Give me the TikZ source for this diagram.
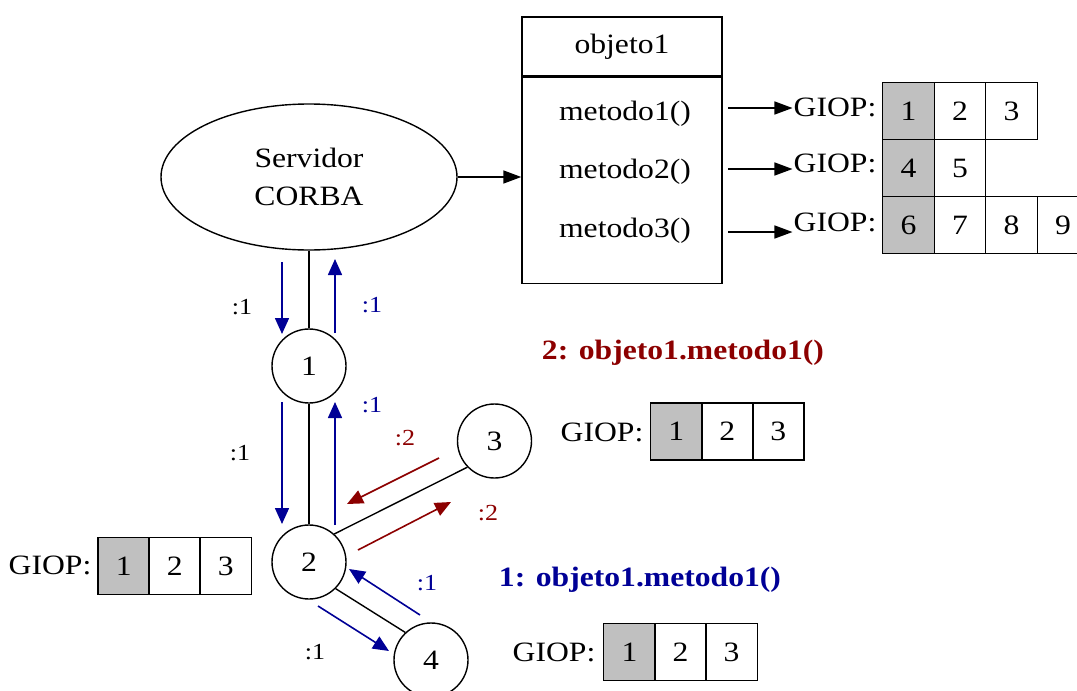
\documentclass[tikz,border=0pt]{standalone}
\usepackage{fontspec}
\setmainfont{Liberation Serif}[FakeStretch=1.13]
\usetikzlibrary{arrows.meta,shapes.geometric}
\definecolor{cblue}{RGB}{0,0,150}
\definecolor{cred}{RGB}{140,0,0}
\definecolor{cgrey}{RGB}{192,192,192}
\begin{document}
\begin{tikzpicture}[x=1pt,y=-1pt,
  txt/.style={font=\fontsize{28}{34}\selectfont, inner sep=1pt},
  lbl/.style={font=\fontsize{23}{27}\selectfont, inner sep=0pt},
  ttl/.style={font=\fontsize{28}{34}\selectfont\bfseries, inner sep=0pt},
  cell/.style={draw, line width=1.4pt, minimum width=51.5pt, minimum height=57pt, inner sep=0pt, font=\fontsize{28}{34}\selectfont},
  gcell/.style={cell, fill=cgrey},
  ring/.style={draw, circle, line width=1.4pt, minimum size=74pt, inner sep=0pt, font=\fontsize{28}{34}\selectfont},
  link/.style={line width=1.4pt},
  flow/.style={line width=1.6pt, -{Triangle[length=16pt,width=14pt]}},
  ptr/.style={line width=1.5pt, -{Triangle[length=18pt,width=13pt]}},
]
\useasboundingbox (0,0) rectangle (1077,691);

% server
\node[draw, ellipse, line width=1.4pt, minimum width=296pt, minimum height=146pt, align=center,
      font=\fontsize{28}{38}\selectfont] (srv) at (309,177) {Servidor\\CORBA};

% object box
\node[draw, line width=1.4pt, minimum width=200pt, minimum height=59pt, txt] (objhead) at (622,46.5) {objeto1};
\node[draw, line width=1.4pt, minimum width=200pt, minimum height=206pt, anchor=north] (objbody) at (objhead.south) {};
\node[txt] (m1) at (625,114) {metodo1()};
\node[txt] (m2) at (625,172) {metodo2()};
\node[txt] (m3) at (625,231) {metodo3()};
\draw[ptr] (srv.east) -- (srv.east -| objbody.west);

% GIOP labels top
\node[txt] (g1) at (835,107) {GIOP:};
\node[txt] (g2) at (835,163) {GIOP:};
\node[txt] (g3) at (835,222) {GIOP:};
\coordinate (a1) at (728,108);
\coordinate (a2) at (728,169);
\coordinate (a3) at (728,232);
\draw[ptr] (a1) -- (a1 -| g1.west);
\draw[ptr] (a2) -- (a2 -| g2.west);
\draw[ptr] (a3) -- (a3 -| g3.west);

% top table
\node[gcell] (t11) at (908.5,111) {1};
\node[cell] (t12) at (960,111) {2};
\node[cell] (t13) at (1011.5,111) {3};
\node[gcell] (t21) at (908.5,168) {4};
\node[cell] (t22) at (960,168) {5};
\node[gcell] (t31) at (908.5,225) {6};
\node[cell] (t32) at (960,225) {7};
\node[cell] (t33) at (1011.5,225) {8};
\node[cell] (t34) at (1063,225) {9};

% circles
\node[ring] (c1) at (309,366) {1};
\node[ring] (c2) at (309,562) {2};
\node[ring] (c3) at (494.5,441) {3};
\node[ring] (c4) at (431,660) {4};

\draw[link] (srv.south) -- (c1.north);
\draw[link] (c1.south) -- (c2.north);
\draw[link] (c2.48) -- (c3.224);
\draw[link] (c2.315) -- (c4.133);

% flow arrows
\coordinate (f1s) at (282,262); \coordinate (f1e) at (282,334);
\coordinate (f2s) at (335,333); \coordinate (f2e) at (335,259);
\coordinate (f3s) at (282,402); \coordinate (f3e) at (282,524);
\coordinate (f4s) at (335,525); \coordinate (f4e) at (335,402);
\coordinate (r1s) at (439,458); \coordinate (r1e) at (347,504);
\coordinate (r2s) at (358,550); \coordinate (r2e) at (451,502);
\coordinate (b1s) at (420,615); \coordinate (b1e) at (349,569);
\coordinate (b2s) at (318,606); \coordinate (b2e) at (389,651);
\draw[flow, cblue] (f1s) -- (f1e);
\draw[flow, cblue] (f2s) -- (f2e);
\draw[flow, cblue] (f3s) -- (f3e);
\draw[flow, cblue] (f4s) -- (f4e);
\draw[flow, cred] (r1s) -- (r1e);
\draw[flow, cred] (r2s) -- (r2e);
\draw[flow, cblue] (b1s) -- (b1e);
\draw[flow, cblue] (b2s) -- (b2e);

% labels
\node[lbl] (l1) at (242,307) {:1};
\node[lbl, text=cblue] (l2) at (372,305) {:1};
\node[lbl] (l3) at (240,453) {:1};
\node[lbl, text=cblue] (l4) at (372,405) {:1};
\node[lbl, text=cred] (l5) at (405,438) {:2};
\node[lbl, text=cred] (l6) at (488,513) {:2};
\node[lbl, text=cblue] (l7) at (427,583) {:1};
\node[lbl] (l8) at (315,652) {:1};

% titles
\node[ttl, text=cred] (tt2) at (683,353) {2: objeto1.metodo1()};
\node[ttl, text=cblue] (tt1) at (640,580) {1: objeto1.metodo1()};

% middle table
\node[txt] (gm) at (602,432) {GIOP:};
\node[gcell] (m11) at (676.2,431.5) {1};
\node[cell] (m12) at (727.3,431.5) {2};
\node[cell] (m13) at (778.3,431.5) {3};

% bottom table
\node[txt] (gb) at (554,652) {GIOP:};
\node[gcell] (b11) at (629.5,652) {1};
\node[cell] (b12) at (680.5,652) {2};
\node[cell] (b13) at (731.5,652) {3};

% left table
\node[txt] (gl) at (50,565) {GIOP:};
\node[gcell] (e11) at (123.8,566) {1};
\node[cell] (e12) at (174.8,566) {2};
\node[cell] (e13) at (225.8,566) {3};
\end{tikzpicture}
\end{document}
